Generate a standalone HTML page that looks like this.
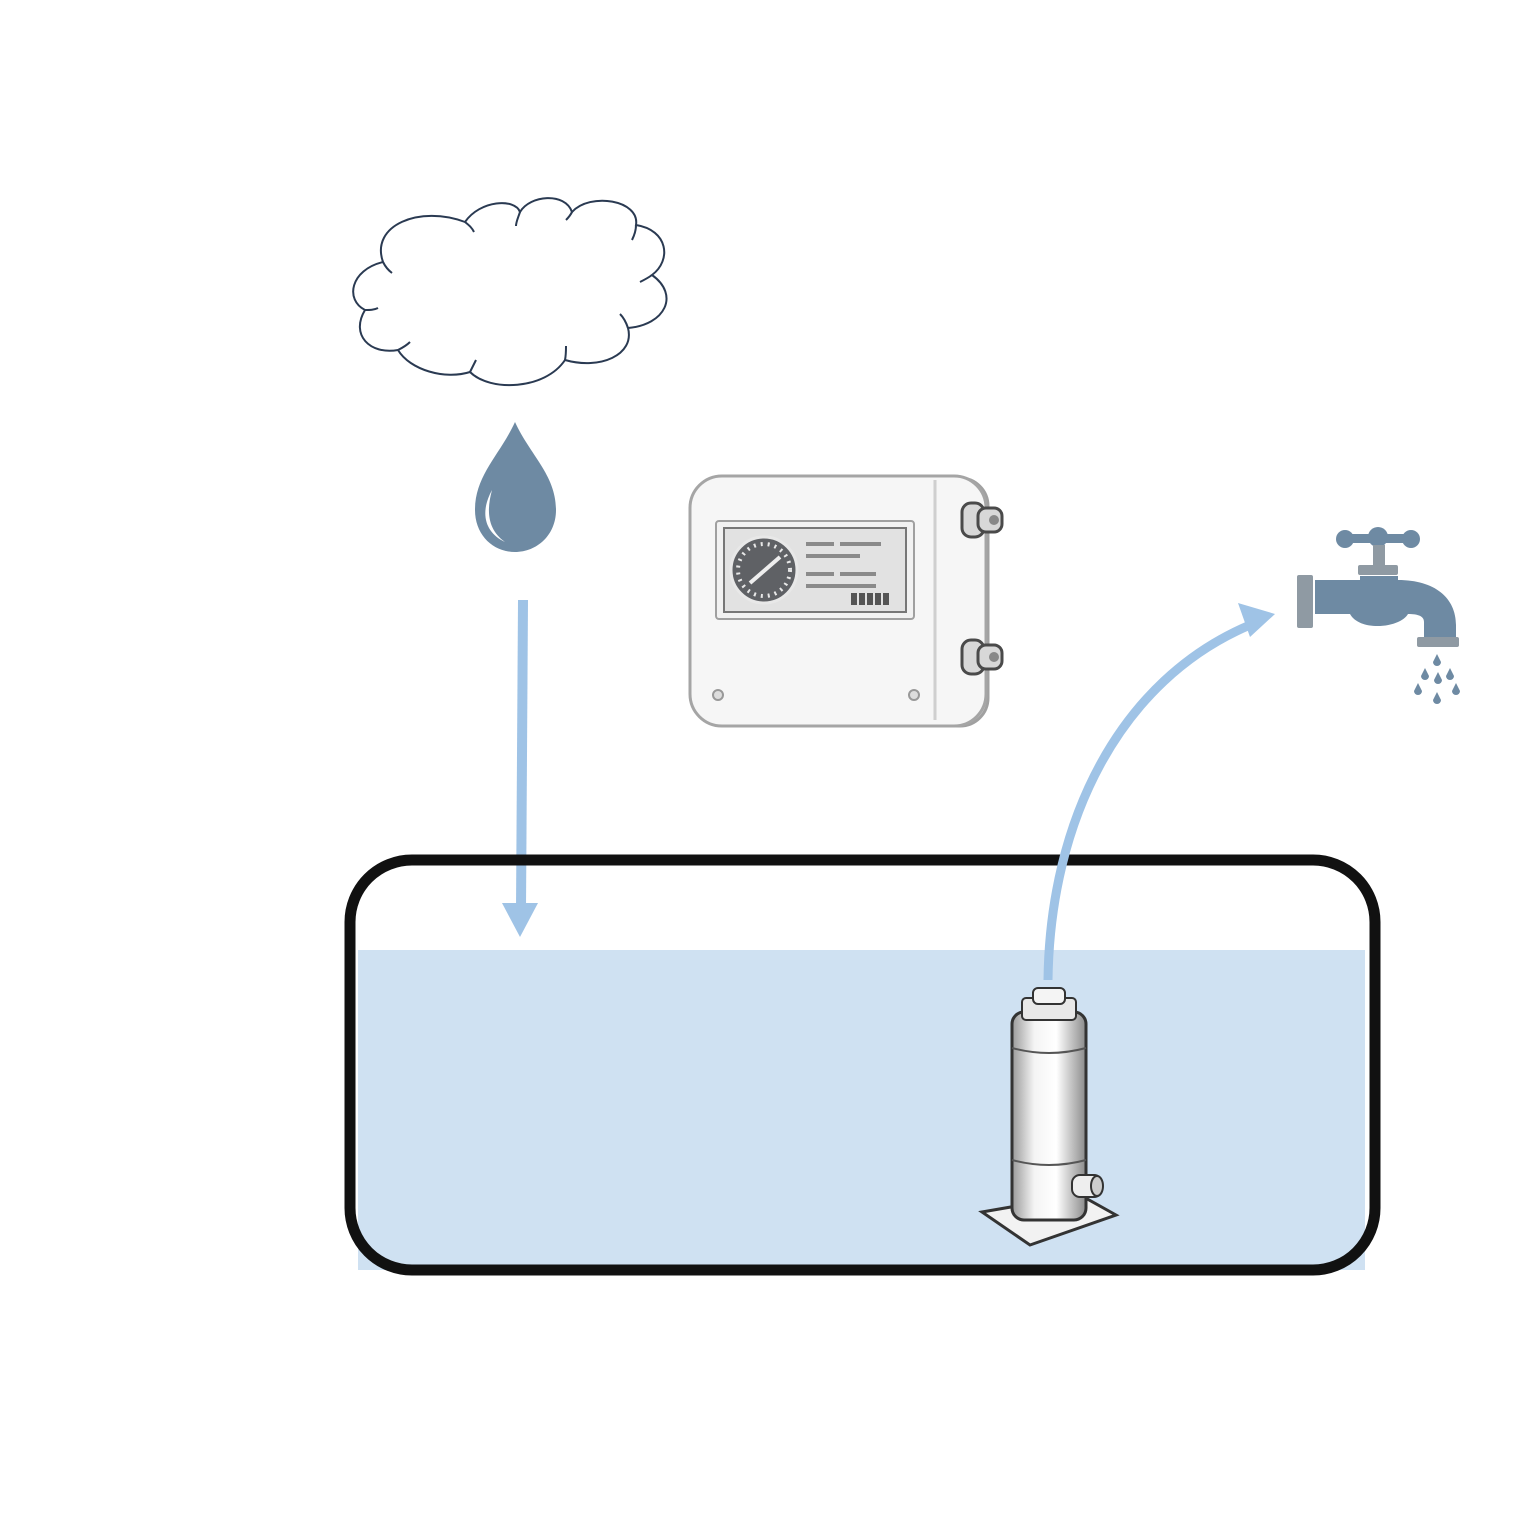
<!DOCTYPE html>
<html><head><style>html,body{margin:0;padding:0;background:#fff}svg{display:block}</style></head>
<body>
<svg width="1525" height="1525" viewBox="0 0 1525 1525" xmlns="http://www.w3.org/2000/svg">
<defs>
<linearGradient id="pg" x1="0" x2="1">
<stop offset="0" stop-color="#9a9a9a"/><stop offset="0.3" stop-color="#f4f4f4"/><stop offset="0.6" stop-color="#ffffff"/><stop offset="1" stop-color="#8a8a8a"/>
</linearGradient>
</defs>
<!-- cloud -->
<path d="M383,262 C370,225 420,205 465,222 C480,200 515,198 520,212 C530,195 565,192 572,212 C590,192 640,200 636,225 C668,230 672,260 652,275 C680,295 665,325 628,328 C635,355 600,370 565,360 C545,390 490,392 470,372 C445,380 410,370 398,350 C370,355 350,335 365,310 C345,300 350,270 383,262 Z" fill="#fff" stroke="#2a3a52" stroke-width="2"/>
<path d="M383,262 C385,266 388,270 392,273 M465,222 C470,226 472,228 474,232 M520,212 C518,218 516,222 516,226 M572,212 C570,216 568,218 566,220 M636,225 C636,230 634,236 632,240 M652,275 C648,278 644,280 640,282 M628,328 C626,322 624,318 620,314 M565,360 C566,355 566,350 566,346 M470,372 C472,368 474,364 476,360 M398,350 C402,348 406,346 410,342 M365,310 C370,310 374,310 378,308" fill="none" stroke="#2a3a52" stroke-width="2"/>
<!-- drop -->
<path d="M515,422 C500,455 475,475 475,510 C475,535 493,552 515,552 C537,552 556,535 556,510 C556,475 530,455 515,422 Z" fill="#6e8aa3"/>
<path d="M492,490 C480,512 484,532 505,542 C488,530 486,512 492,490 Z" fill="#fff"/>
<!-- down arrow -->
<path d="M523,600 L521,910" stroke="#9fc3e6" stroke-width="10" fill="none"/>
<path d="M502,903 L538,903 L520,937 Z" fill="#9fc3e6"/>
<!-- tank water -->
<rect x="358" y="950" width="1007" height="320" fill="#cfe1f2"/>
<rect x="350" y="860" width="1025" height="410" rx="62" ry="62" fill="none" stroke="#111" stroke-width="11"/>
<!-- curved arrow -->
<path d="M1048,980 C1050,820 1120,680 1250,625" stroke="#9fc3e6" stroke-width="9" fill="none"/>
<path d="M1275,614 L1238,603 L1250,637 Z" fill="#9fc3e6"/>
<!-- controller -->
<rect x="930" y="478" width="58" height="248" rx="28" fill="#e4e4e4" stroke="#a0a0a0" stroke-width="3"/>
<rect x="690" y="476" width="296" height="250" rx="32" fill="#f6f6f6" stroke="#a5a5a5" stroke-width="3"/>
<path d="M935,480 L935,720" stroke="#cfcfcf" stroke-width="3"/>
<rect x="716" y="521" width="198" height="98" rx="3" fill="#f2f2f2" stroke="#a0a0a0" stroke-width="2"/>
<rect x="724" y="528" width="182" height="84" fill="#e2e2e2" stroke="#777" stroke-width="2"/>
<circle cx="764" cy="570" r="33" fill="#5f6165" stroke="#e8e8e8" stroke-width="3"/>
<circle cx="764" cy="570" r="26" fill="none" stroke="#e8e8e8" stroke-width="4" stroke-dasharray="2 5"/>
<path d="M750,583 L780,557" stroke="#eee" stroke-width="4"/>
<rect x="806" y="542" width="28" height="4" fill="#8a8a8a"/><rect x="840" y="542" width="41" height="4" fill="#8a8a8a"/>
<rect x="806" y="554" width="54" height="4" fill="#8a8a8a"/>
<rect x="806" y="572" width="28" height="4" fill="#8a8a8a"/><rect x="840" y="572" width="36" height="4" fill="#8a8a8a"/>
<rect x="806" y="584" width="70" height="4" fill="#8a8a8a"/>
<g fill="#555"><rect x="851" y="593" width="6" height="12"/><rect x="859" y="593" width="6" height="12"/><rect x="867" y="593" width="6" height="12"/><rect x="875" y="593" width="6" height="12"/><rect x="883" y="593" width="6" height="12"/></g>
<circle cx="718" cy="695" r="5" fill="#ddd" stroke="#999" stroke-width="2"/>
<circle cx="914" cy="695" r="5" fill="#ddd" stroke="#999" stroke-width="2"/>
<g stroke="#4a4a4a" stroke-width="3" fill="#d8d8d8">
<rect x="962" y="503" width="22" height="34" rx="9"/><rect x="978" y="508" width="24" height="24" rx="8"/>
<rect x="962" y="640" width="22" height="34" rx="9"/><rect x="978" y="645" width="24" height="24" rx="8"/>
</g>
<circle cx="994" cy="520" r="5" fill="#888"/><circle cx="994" cy="657" r="5" fill="#888"/>
<!-- faucet -->
<g fill="#6e8aa3">
<rect x="1340" y="534" width="76" height="9" rx="4"/>
<circle cx="1345" cy="539" r="9"/><circle cx="1378" cy="537" r="10"/><circle cx="1411" cy="539" r="9"/>
<path d="M1315,580 L1360,580 L1360,576 L1398,576 L1398,580 C1435,580 1456,598 1456,625 L1456,638 L1424,638 L1424,622 C1424,616 1418,614 1408,614 C1400,628 1360,632 1350,614 L1315,614 Z"/>
</g>
<g fill="#8f9aa3">
<rect x="1373" y="545" width="12" height="22"/>
<rect x="1358" y="565" width="40" height="10" rx="2"/>
<rect x="1297" y="575" width="16" height="53" rx="2"/>
<rect x="1417" y="637" width="42" height="10" rx="2"/>
</g>
<g fill="#6e8aa3">
<path d="M1437,654 l-4,8 a4,4 0 1 0 8,0 Z"/>
<path d="M1425,668 l-4,8 a4,4 0 1 0 8,0 Z"/>
<path d="M1438,672 l-4,8 a4,4 0 1 0 8,0 Z"/>
<path d="M1450,668 l-4,8 a4,4 0 1 0 8,0 Z"/>
<path d="M1418,683 l-4,8 a4,4 0 1 0 8,0 Z"/>
<path d="M1437,692 l-4,8 a4,4 0 1 0 8,0 Z"/>
<path d="M1456,683 l-4,8 a4,4 0 1 0 8,0 Z"/>
</g>
<!-- pump -->
<path d="M982,1212 L1080,1195 L1116,1215 L1030,1245 Z" fill="#f2f2f2" stroke="#333" stroke-width="3"/>
<rect x="1012" y="1012" width="74" height="208" rx="12" fill="url(#pg)" stroke="#333" stroke-width="3"/>
<path d="M1012,1048 Q1049,1058 1086,1048 M1012,1160 Q1049,1170 1086,1160" stroke="#555" stroke-width="2" fill="none"/>
<rect x="1022" y="998" width="54" height="22" rx="4" fill="#e8e8e8" stroke="#333" stroke-width="2"/>
<rect x="1033" y="988" width="32" height="16" rx="5" fill="#f4f4f4" stroke="#333" stroke-width="2"/>
<rect x="1072" y="1175" width="30" height="22" rx="8" fill="#eee" stroke="#333" stroke-width="2"/>
<ellipse cx="1097" cy="1186" rx="6" ry="10" fill="#ccc" stroke="#333" stroke-width="2"/>
</svg>
</body></html>
